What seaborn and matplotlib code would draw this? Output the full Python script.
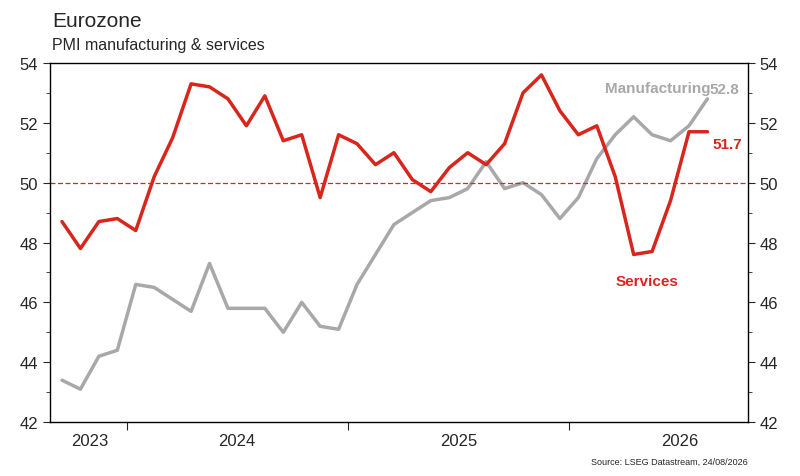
import matplotlib
matplotlib.use("Agg")
import matplotlib.pyplot as plt
import seaborn as sns
import numpy as np
import pandas as pd
from matplotlib.ticker import MultipleLocator, FixedLocator

services = [48.7,47.8,48.7,48.8,48.4,50.2,51.5,53.3,53.2,52.8,51.9,52.9,51.4,51.6,49.5,51.6,51.3,50.6,51.0,50.1,
            49.7,50.5,51.0,50.6,51.3,53.0,53.6,52.4,51.6,51.9,50.2,47.6,47.7,49.4,51.7,51.7]
manufacturing = [43.4,43.1,44.2,44.4,46.6,46.5,46.1,45.7,47.3,45.8,45.8,45.8,45.0,46.0,45.2,45.1,46.6,47.6,48.6,49.0,
                 49.4,49.5,49.8,50.7,49.8,50.0,49.6,48.8,49.5,50.8,51.6,52.2,51.6,51.4,51.9,52.8]
year_labels = ["2023", "2024", "2025", "2026"]
year_label_pos = [1.5, 9.5, 21.5, 33.5]
year_bounds = [3.5, 15.5, 27.5, 39.5]

sns.set_style("white")
plt.rcParams['font.family'] = ['Arial', 'Liberation Sans', 'DejaVu Sans']

df = pd.DataFrame({"m": np.arange(len(services)), "Services": services, "Manufacturing": manufacturing})
fig = plt.figure(figsize=(8, 4.77), dpi=100)
ax = fig.add_axes([0.0625, 0.113, 0.8725, 0.753])
red = "#d9261c"; grey = "#a8a8ab"
sns.lineplot(data=df, x="m", y="Manufacturing", ax=ax, color=grey, lw=2.5)
sns.lineplot(data=df, x="m", y="Services", ax=ax, color=red, lw=2.5)
ax.axhline(50, color=red, lw=0.9, ls=(0, (4, 2)))
ax.set_xlim(-0.65, 37.2); ax.set_ylim(42, 54)
ax.set_xlabel(""); ax.set_ylabel("")
for s in ax.spines.values():
    s.set_color("black"); s.set_linewidth(1)
ax.yaxis.set_major_locator(MultipleLocator(2))
ax.yaxis.set_minor_locator(MultipleLocator(1))
ax.tick_params(axis="y", which="both", left=True, right=True, labelright=True, direction="out", labelsize=12)
ax.tick_params(axis="y", which="major", length=5)
ax.tick_params(axis="y", which="minor", length=3)
ax.xaxis.set_major_locator(FixedLocator(year_bounds))
ax.set_xticklabels([""] * len(year_bounds))
ax.xaxis.set_minor_locator(FixedLocator(year_label_pos))
ax.xaxis.set_minor_formatter(matplotlib.ticker.FixedFormatter(year_labels))
ax.tick_params(axis="x", which="major", length=6, direction="out", bottom=True)
ax.tick_params(axis="x", which="minor", length=0, labelsize=12, pad=8)
ax.grid(False)

ax.text(35.9, 53.12, "52.8", color=grey, fontsize=11, fontweight="bold", ha="center", va="center")
ax.text(32.3, 53.15, "Manufacturing", color=grey, fontsize=11, fontweight="bold", ha="center", va="center")
ax.text(36.1, 51.3, "51.7", color=red, fontsize=11, fontweight="bold", ha="center", va="center")
ax.text(31.7, 46.7, "Services", color=red, fontsize=11, fontweight="bold", ha="center", va="center")

fig.text(0.065, 0.955, "Eurozone", fontsize=15, va="center")
fig.text(0.065, 0.905, "PMI manufacturing & services", fontsize=11.5, va="center")
fig.text(0.935, 0.03, "Source: LSEG Datastream, 24/08/2026", fontsize=6.5, ha="right", va="center")
fig.savefig("out.png", dpi=100)
